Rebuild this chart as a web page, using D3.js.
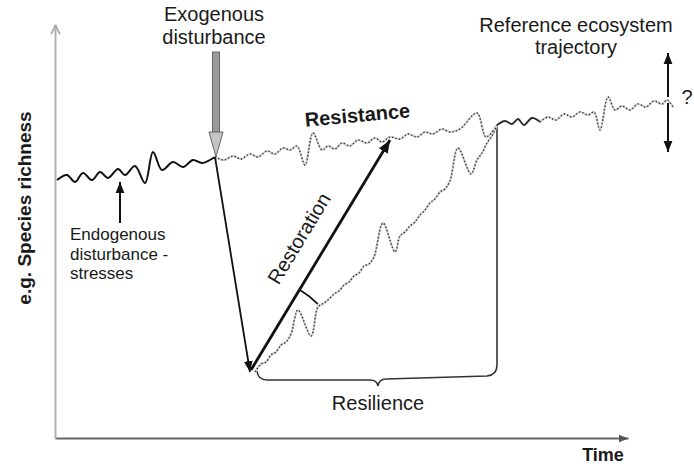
<!DOCTYPE html>
<html>
<head>
<meta charset="utf-8">
<script src="https://cdn.jsdelivr.net/npm/d3@7"></script>
<style>
  html, body { margin: 0; padding: 0; background: #fff; }
  svg { display: block; font-family: "Liberation Sans", Arial, sans-serif; }
</style>
</head>
<body>
<script>
// values are [time, richness] in arbitrary units (schematic diagram)
var preDisturbance = [[2,258],[12,263],[20,256],[28,265],[37,258],[45,266],[53,260],[63,269],[70,263],[80,272],[90,255],[98,286],[107,268],[118,276],[128,271],[138,278],[147,275],[160,281]];

var referenceDotted = [[160,281],[169,278],[178,282],[186,279],[195,284],[203,281],[212,287],[220,284],[228,290],[235,288],[242,292],[250,273],[258,305],[267,288],[273,292],[280,289],[287,295],[295,292],[303,298],[312,295],[320,300],[327,296],[335,301],[345,299],[353,304],[362,301],[370,306],[378,304],[387,309],[395,306],[405,309],[422,325],[431,301],[442,313]];

var referenceSolid = [[442,313],[450,317],[457,314],[463,319],[469,313],[477,320],[485,316]];

var referenceTail = [[485,316],[493,321],[501,318],[509,324],[517,321],[525,326],[533,323],[539,326],[545,308],[553,341],[560,328],[567,332],[575,328],[583,334],[591,331],[599,337],[607,334],[612,338],[618,331]];

var recoveryDotted = [[200,66],[206,74],[211,76],[216,83],[221,86],[226,93],[231,96],[236,104],[243,128],[256,102],[263,131],[269,135],[274,139],[279,144],[284,147],[289,153],[294,156],[299,162],[304,165],[309,172],[314,174],[319,181],[328,215],[340,186],[345,202],[350,206],[355,212],[360,216],[365,223],[370,228],[375,235],[380,239],[385,246],[390,249],[395,257],[403,290],[416,264],[422,278],[427,285],[432,295],[437,302],[442,313]];

var disturbancePoint = [160,281];
var lowPoint = [195,66];
var restorationTip = [335,298];
var junctionPoint = [442,313];
var exogenousArrow = [[161,386],[161,281]];
var endogenousArrow = [[65,215],[65,256]];
var uncertaintyUp = [[613,341],[613,385]];
var uncertaintyDown = [[613,335],[613,286]];
var braceLevel = [58, 62];      // richness at left / right ends of the brace
var braceCentre = 323;          // time of the brace tip

var width = 694, height = 464;

var x = d3.scaleLinear().domain([0, 573]).range([55, 628]);
var y = d3.scaleLinear().domain([0, 414]).range([438, 24]);

var svg = d3.select("body").append("svg")
    .attr("width", width)
    .attr("height", height);

var defs = svg.append("defs");
function addMarker(id, color, size, open){
    var m = defs.append("marker")
        .attr("id", id)
        .attr("viewBox", "0 -5 10 10")
        .attr("refX", 10)
        .attr("refY", 0)
        .attr("markerUnits", "userSpaceOnUse")
        .attr("markerWidth", size)
        .attr("markerHeight", size)
        .attr("orient", "auto");
    if (open) {
        m.append("path").attr("d", "M1,-4L9.5,0L1,4")
            .attr("fill", "none").attr("stroke", color).attr("stroke-width", 1.6);
    } else {
        m.append("path").attr("d", "M0,-4L10,0L0,4Z").attr("fill", color);
    }
}
addMarker("headBlack", "#111", 11, false);
addMarker("headBig", "#111", 13, false);
addMarker("headAxisX", "#555", 10, false);
addMarker("headAxisY", "#aaa", 11, true);

// axes (no ticks, just arrowed lines)
var xAxis = svg.append("g")
    .attr("transform", "translate(0," + y(0) + ")")
    .call(d3.axisBottom(x).tickValues([]).tickSizeOuter(0));
xAxis.select(".domain")
    .attr("stroke", "#666")
    .attr("stroke-width", 2)
    .attr("marker-end", "url(#headAxisX)");

var yAxis = svg.append("g")
    .attr("transform", "translate(" + x(0) + ",0)")
    .call(d3.axisLeft(y).tickValues([]).tickSizeOuter(0));
yAxis.select(".domain")
    .attr("stroke", "#b0b0b0")
    .attr("stroke-width", 2)
    .attr("marker-end", "url(#headAxisY)");

var line = d3.line()
    .x(function(d){ return x(d[0]); })
    .y(function(d){ return y(d[1]); })
    .curve(d3.curveCatmullRom.alpha(0.5));

function dotted(data){
    svg.append("path").attr("d", line(data))
        .attr("fill", "none").attr("stroke", "#cfcfcf").attr("stroke-width", 2.2);
    svg.append("path").attr("d", line(data))
        .attr("fill", "none").attr("stroke", "#333").attr("stroke-width", 1.4)
        .attr("stroke-dasharray", "1.3,2.2");
}

// brace + vertical bracket for resilience
var xl = x(recoveryDotted[0][0]) + 2,
    xr = x(junctionPoint[0]),
    xm = x(braceCentre),
    yl = y(braceLevel[0]),
    yr = y(braceLevel[1]);
var bp = d3.path();
bp.moveTo(xl, yl - 9);
bp.quadraticCurveTo(xl + 1, yl, xl + 10, yl);
bp.lineTo(xm - 8, yl);
bp.quadraticCurveTo(xm - 1, yl, xm, yl + 6);
bp.quadraticCurveTo(xm + 1, yl - 1, xm + 8, yl - 1);
bp.lineTo(xr - 10, yr);
bp.quadraticCurveTo(xr, yr - 1, xr, yr - 11);
bp.lineTo(xr, y(junctionPoint[1]));
svg.append("path").attr("d", bp.toString())
    .attr("fill", "none").attr("stroke", "#333").attr("stroke-width", 1.6);

// trajectories
svg.append("path").attr("d", line(preDisturbance))
    .attr("fill", "none").attr("stroke", "#111").attr("stroke-width", 2);
dotted(referenceDotted);
dotted(recoveryDotted);
svg.append("path").attr("d", line(referenceSolid))
    .attr("fill", "none").attr("stroke", "#2a2a2a").attr("stroke-width", 1.8);
dotted(referenceTail);

// collapse arrow
svg.append("line")
    .attr("x1", x(disturbancePoint[0])).attr("y1", y(disturbancePoint[1]))
    .attr("x2", x(lowPoint[0])).attr("y2", y(lowPoint[1]))
    .attr("stroke", "#111").attr("stroke-width", 1.8)
    .attr("marker-end", "url(#headBlack)");

// restoration arrow
svg.append("line")
    .attr("x1", x(lowPoint[0]) + 1).attr("y1", y(lowPoint[1]) - 2)
    .attr("x2", x(restorationTip[0])).attr("y2", y(restorationTip[1]))
    .attr("stroke", "#111").attr("stroke-width", 2.8)
    .attr("marker-end", "url(#headBig)");

// angle arc between restoration and recovery
var cx = x(lowPoint[0]), cy = y(lowPoint[1]);
var a0 = Math.atan2(y(restorationTip[1]) - cy, x(restorationTip[0]) - cx);
var a1 = Math.atan2(y(junctionPoint[1]) - cy, x(junctionPoint[0]) - cx);
var ap = d3.path();
ap.arc(cx, cy, 96, a0, a1);
svg.append("path").attr("d", ap.toString())
    .attr("fill", "none").attr("stroke", "#111").attr("stroke-width", 1.6);

// exogenous disturbance (hollow grey arrow)
var ex = x(exogenousArrow[0][0]),
    eTop = y(exogenousArrow[0][1]),
    eTip = y(exogenousArrow[1][1]);
svg.append("rect")
    .attr("x", ex - 3.5).attr("y", eTop)
    .attr("width", 7).attr("height", eTip - eTop - 22)
    .attr("fill", "#9a9a9a").attr("stroke", "#666").attr("stroke-width", 1);
svg.append("path")
    .attr("d", "M" + (ex - 7) + "," + (eTip - 25) + "L" + (ex + 7) + "," + (eTip - 25) + "L" + ex + "," + eTip + "Z")
    .attr("fill", "#c4c4c4").attr("stroke", "#666").attr("stroke-width", 1);

// endogenous arrow
svg.append("line")
    .attr("x1", x(endogenousArrow[0][0])).attr("y1", y(endogenousArrow[0][1]))
    .attr("x2", x(endogenousArrow[1][0])).attr("y2", y(endogenousArrow[1][1]))
    .attr("stroke", "#111").attr("stroke-width", 2)
    .attr("marker-end", "url(#headBlack)");

// uncertainty double arrow
[uncertaintyUp, uncertaintyDown].forEach(function(seg){
    svg.append("line")
        .attr("x1", x(seg[0][0])).attr("y1", y(seg[0][1]))
        .attr("x2", x(seg[1][0])).attr("y2", y(seg[1][1]))
        .attr("stroke", "#111").attr("stroke-width", 2)
        .attr("marker-end", "url(#headBlack)");
});

// labels
function label(txt, px, py, opts){
    opts = opts || {};
    var t = svg.append("text")
        .attr("x", px).attr("y", py)
        .attr("text-anchor", opts.anchor || "middle")
        .attr("font-size", opts.size || 20)
        .attr("font-weight", opts.bold ? "bold" : "normal")
        .attr("fill", "#1a1a1a")
        .text(txt);
    if (opts.rotate !== undefined) {
        t.attr("transform", "rotate(" + opts.rotate + "," + px + "," + py + ")");
    }
    return t;
}

label("Exogenous", 214, 21);
label("disturbance", 214, 44);
label("Reference ecosystem", 576, 32);
label("trajectory", 576, 54);
label("Resistance", 358, 122, {bold: true, rotate: -5.2});
label("Restoration", 305, 242, {rotate: -58.9});
label("Endogenous", 70, 240, {anchor: "start", size: 17});
label("disturbance -", 70, 260, {anchor: "start", size: 17});
label("stresses", 70, 279, {anchor: "start", size: 17});
label("Resilience", 378, 410);
label("Time", 603, 461, {bold: true, size: 18});
label("e.g. Species richness", 31, 208, {bold: true, size: 19, rotate: -90});
label("?", 687, 104);
</script>
</body>
</html>
